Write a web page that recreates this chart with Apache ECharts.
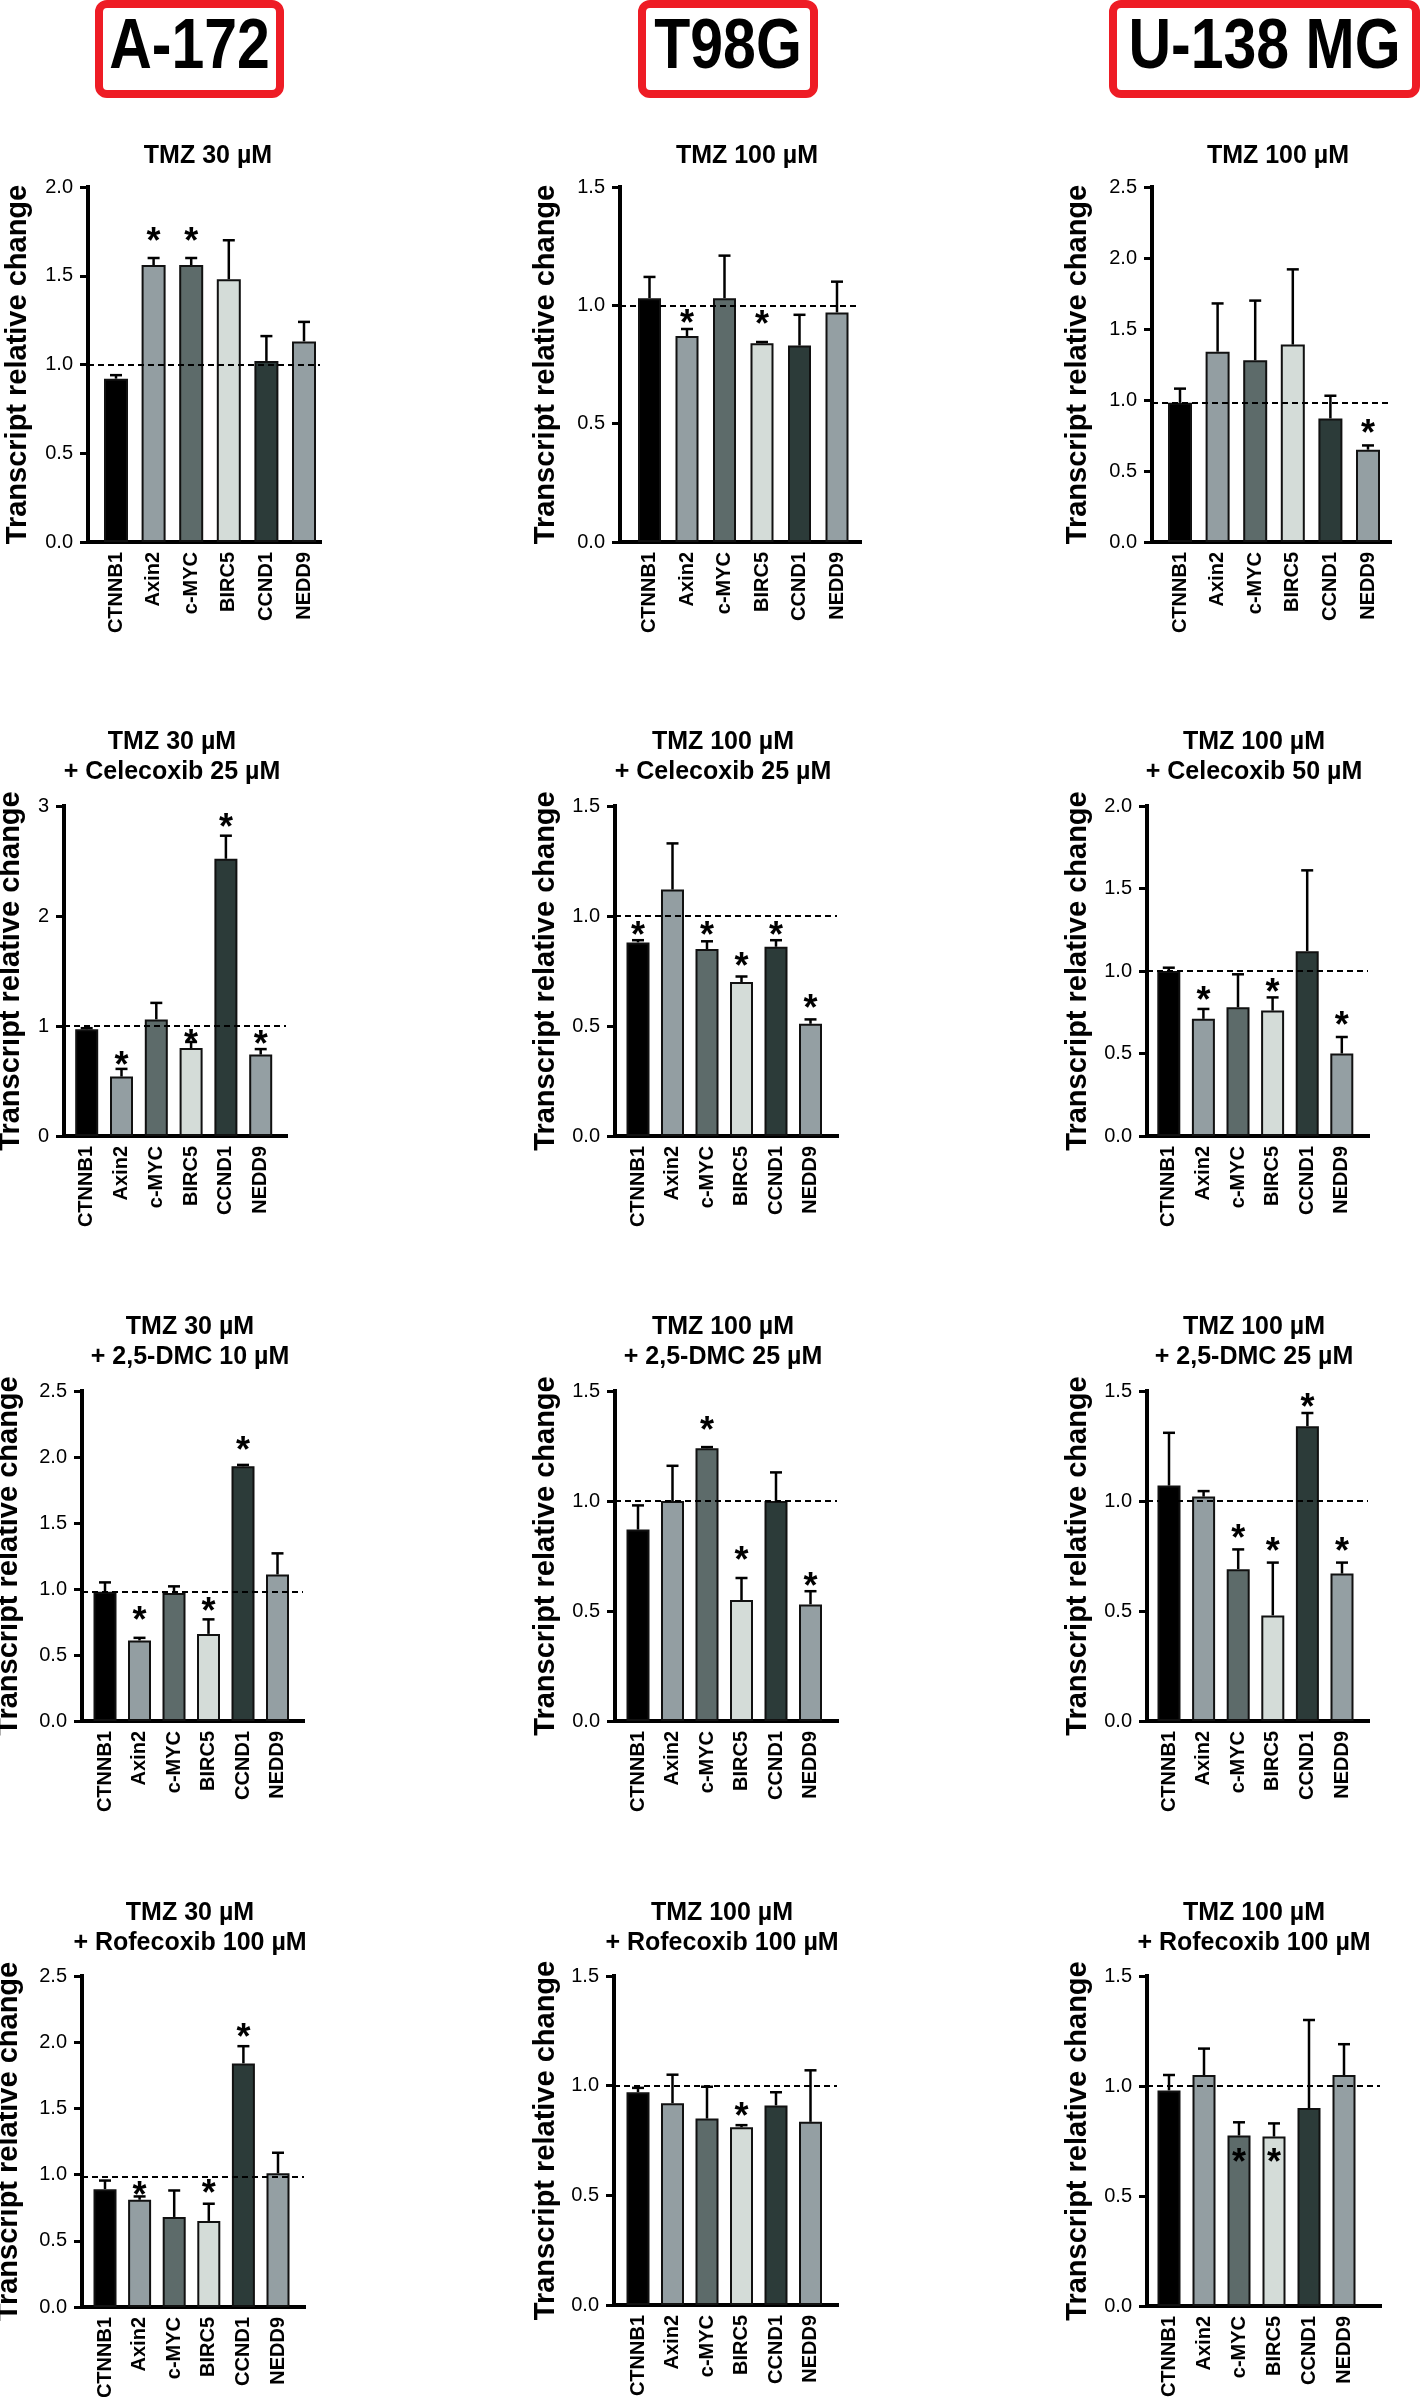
<!DOCTYPE html>
<html><head><meta charset="utf-8">
<script src="https://cdn.jsdelivr.net/npm/echarts@6/dist/echarts.min.js"></script>
<style>html,body{margin:0;padding:0;background:#fff}#c{width:1422px;height:2397px}</style>
</head><body><div id="c"></div>
<script>
// ---------------- DATA ----------------
const categories = ['CTNNB1', 'Axin2', 'c-MYC', 'BIRC5', 'CCND1', 'NEDD9'];
const cellLines = ['A-172', 'T98G', 'U-138 MG'];
const yAxisTitle = 'Transcript relative change';

const panelTitles = [
  'TMZ 30 µM', 'TMZ 100 µM', 'TMZ 100 µM',
  'TMZ 30 µM\n+ Celecoxib 25 µM', 'TMZ 100 µM\n+ Celecoxib 25 µM', 'TMZ 100 µM\n+ Celecoxib 50 µM',
  'TMZ 30 µM\n+ 2,5-DMC 10 µM', 'TMZ 100 µM\n+ 2,5-DMC 25 µM', 'TMZ 100 µM\n+ 2,5-DMC 25 µM',
  'TMZ 30 µM\n+ Rofecoxib 100 µM', 'TMZ 100 µM\n+ Rofecoxib 100 µM', 'TMZ 100 µM\n+ Rofecoxib 100 µM'
];
const yMax  = [2, 1.5, 2.5, 3, 1.5, 2, 2.5, 1.5, 1.5, 2.5, 1.5, 1.5];
const yStep = [0.5, 0.5, 0.5, 1, 0.5, 0.5, 0.5, 0.5, 0.5, 0.5, 0.5, 0.5];
const refLine = [1, 1, 0.98, 1, 1, 1, 0.98, 1, 1, 0.985, 1, 1];

// Row 1: TMZ alone
const a172_tmz_mean = [0.92, 1.56, 1.56, 1.48, 1.02, 1.13];
const a172_tmz_sem  = [0.02, 0.04, 0.04, 0.22, 0.14, 0.11];
const a172_tmz_star = [null, 1.73, 1.73, null, null, null];
const t98g_tmz_mean = [1.03, 0.87, 1.03, 0.84, 0.83, 0.97];
const t98g_tmz_sem  = [0.09, 0.03, 0.18, 0.005, 0.13, 0.13];
const t98g_tmz_star = [null, 0.95, null, 0.945, null, null];
const u138_tmz_mean = [0.98, 1.34, 1.28, 1.39, 0.87, 0.65];
const u138_tmz_sem  = [0.10, 0.34, 0.42, 0.53, 0.16, 0.03];
const u138_tmz_star = [null, null, null, null, null, 0.81];

// Row 2: + Celecoxib
const a172_cel_mean = [0.97, 0.54, 1.06, 0.80, 2.52, 0.74];
const a172_cel_sem  = [0.01, 0.07, 0.15, 0.055, 0.21, 0.05];
const a172_cel_star = [null, 0.70, null, 0.90, 2.86, 0.89];
const t98g_cel_mean = [0.88, 1.12, 0.85, 0.70, 0.86, 0.51];
const t98g_cel_sem  = [0.01, 0.21, 0.035, 0.025, 0.03, 0.02];
const t98g_cel_star = [0.94, null, 0.94, 0.80, 0.94, 0.61];
const u138_cel_mean = [1.00, 0.71, 0.78, 0.76, 1.12, 0.50];
const u138_cel_sem  = [0.02, 0.06, 0.20, 0.08, 0.49, 0.10];
const u138_cel_star = [null, 0.86, null, 0.91, null, 0.71];

// Row 3: + 2,5-DMC
const a172_dmc_mean = [0.98, 0.61, 0.97, 0.66, 1.93, 1.11];
const a172_dmc_sem  = [0.07, 0.02, 0.05, 0.11, 0.01, 0.16];
const a172_dmc_star = [null, 0.81, null, 0.88, 2.10, null];
const t98g_dmc_mean = [0.87, 1.00, 1.24, 0.55, 1.00, 0.53];
const t98g_dmc_sem  = [0.11, 0.16, 0.005, 0.10, 0.13, 0.06];
const t98g_dmc_star = [null, null, 1.35, 0.76, null, 0.64];
const u138_dmc_mean = [1.07, 1.02, 0.69, 0.48, 1.34, 0.67];
const u138_dmc_sem  = [0.24, 0.025, 0.09, 0.24, 0.06, 0.05];
const u138_dmc_star = [null, null, 0.86, 0.80, 1.455, 0.80];

// Row 4: + Rofecoxib
const a172_rof_mean = [0.89, 0.81, 0.68, 0.65, 1.84, 1.01];
const a172_rof_sem  = [0.065, 0.025, 0.20, 0.13, 0.13, 0.155];
const a172_rof_star = [null, 0.89, null, 0.905, 2.085, null];
const t98g_rof_mean = [0.97, 0.92, 0.85, 0.81, 0.91, 0.835];
const t98g_rof_sem  = [0.02, 0.13, 0.145, 0.01, 0.06, 0.235];
const t98g_rof_star = [null, null, null, 0.89, null, null];
const u138_rof_mean = [0.98, 1.05, 0.775, 0.77, 0.90, 1.05];
const u138_rof_sem  = [0.07, 0.12, 0.06, 0.06, 0.40, 0.14];
const u138_rof_star = [null, null, 0.68, 0.68, null, null];

const panelMeans = [a172_tmz_mean, t98g_tmz_mean, u138_tmz_mean, a172_cel_mean, t98g_cel_mean, u138_cel_mean,
                    a172_dmc_mean, t98g_dmc_mean, u138_dmc_mean, a172_rof_mean, t98g_rof_mean, u138_rof_mean];
const panelSems  = [a172_tmz_sem, t98g_tmz_sem, u138_tmz_sem, a172_cel_sem, t98g_cel_sem, u138_cel_sem,
                    a172_dmc_sem, t98g_dmc_sem, u138_dmc_sem, a172_rof_sem, t98g_rof_sem, u138_rof_sem];
const panelStars = [a172_tmz_star, t98g_tmz_star, u138_tmz_star, a172_cel_star, t98g_cel_star, u138_cel_star,
                    a172_dmc_star, t98g_dmc_star, u138_dmc_star, a172_rof_star, t98g_rof_star, u138_rof_star];

// ---------------- LAYOUT / STYLE ----------------
const FONT = "'Liberation Sans', Arial, Helvetica, sans-serif";
const barColors = ['#000000', '#939ea2', '#5d6b6a', '#d4dcd8', '#2c3b39', '#949fa3'];
// ax: y-axis x, end: x-axis right end, top/bottom: y-range, c0: first bar centre, sp: bar spacing, bw: bar width, nd: name distance, tx: title centre x
const layout = [
  {ax: 88,   end: 320,  top: 187,  bottom: 542,  c0: 116,    sp: 37.6, bw: 24, nd: 71, tx: 208},
  {ax: 620,  end: 860,  top: 187,  bottom: 542,  c0: 649.5,  sp: 37.5, bw: 23, nd: 75, tx: 747},
  {ax: 1152, end: 1390, top: 187,  bottom: 542,  c0: 1180,   sp: 37.6, bw: 24, nd: 75, tx: 1278},
  {ax: 64,   end: 286,  top: 806,  bottom: 1136, c0: 86.7,   sp: 34.8, bw: 23, nd: 54, tx: 172},
  {ax: 615,  end: 837,  top: 806,  bottom: 1136, c0: 638,    sp: 34.5, bw: 23, nd: 70, tx: 723},
  {ax: 1147, end: 1368, top: 806,  bottom: 1136, c0: 1168.8, sp: 34.6, bw: 23, nd: 70, tx: 1254},
  {ax: 82,   end: 303,  top: 1391, bottom: 1721, c0: 105,    sp: 34.5, bw: 23, nd: 74, tx: 190},
  {ax: 615,  end: 837,  top: 1391, bottom: 1721, c0: 638,    sp: 34.5, bw: 23, nd: 70, tx: 723},
  {ax: 1147, end: 1368, top: 1391, bottom: 1721, c0: 1169,   sp: 34.6, bw: 23, nd: 70, tx: 1254},
  {ax: 82,   end: 304,  top: 1976, bottom: 2307, c0: 105,    sp: 34.6, bw: 23, nd: 74, tx: 190},
  {ax: 614,  end: 837,  top: 1976, bottom: 2305, c0: 638,    sp: 34.5, bw: 23, nd: 69, tx: 722},
  {ax: 1147, end: 1380, top: 1976, bottom: 2306, c0: 1169,   sp: 35,   bw: 23, nd: 70, tx: 1254}
];
const titleTop = [141, 727, 1312, 1898];
const headerBoxes = [{x0: 95, x1: 284}, {x0: 638, x1: 818}, {x0: 1109, x1: 1420}];

const grids = [], xAxes = [], yAxes = [], series = [], graphics = [];

layout.forEach((L, k) => {
  const means = panelMeans[k], sems = panelSems[k], stars = panelStars[k];
  const step = yStep[k];
  grids.push({left: L.ax, top: L.top, width: L.end - L.ax, height: L.bottom - L.top,
              containLabel: false, outerBoundsMode: 'none'});
  xAxes.push({
    gridIndex: k, type: 'value', min: (L.ax - L.c0) / L.sp, max: (L.end - L.c0) / L.sp,
    axisLine: {show: true, onZero: false, lineStyle: {color: '#000', width: 4, cap: 'square'}},
    axisTick: {show: false}, splitLine: {show: false},
    axisLabel: {customValues: [0, 1, 2, 3, 4, 5], formatter: v => categories[Math.round(v)],
                rotate: 90, margin: 10, color: '#000', fontFamily: FONT, fontWeight: 'bold', fontSize: 20}
  });
  yAxes.push({
    gridIndex: k, type: 'value', min: 0, max: yMax[k], interval: step,
    name: yAxisTitle, nameLocation: 'middle', nameGap: L.nd - 15, nameMoveOverlap: false,
    nameTextStyle: {color: '#000', fontFamily: FONT, fontWeight: 'bold', fontSize: 29},
    axisLine: {show: true, onZero: false, lineStyle: {color: '#000', width: 4, cap: 'square'}},
    axisTick: {show: true, length: 8, lineStyle: {color: '#000', width: 3}},
    axisLabel: {margin: 15, color: '#000', fontFamily: FONT, fontSize: 20,
                formatter: v => step >= 1 ? String(Math.round(v)) : v.toFixed(1)},
    splitLine: {show: false}
  });
  series.push({
    type: 'bar', xAxisIndex: k, yAxisIndex: k, barWidth: L.bw, z: 2,
    data: means.map((v, i) => ({value: [i, v], itemStyle: {color: barColors[i]}})),
    itemStyle: {borderColor: '#111', borderWidth: 2},
    markLine: {silent: true, symbol: 'none', z: 5, label: {show: false},
               lineStyle: {color: '#000', width: 2, type: [6, 4]},
               data: [{yAxis: refLine[k]}]}
  });
  series.push({
    type: 'custom', xAxisIndex: k, yAxisIndex: k, z: 1, clip: false,
    data: means.map((v, i) => [i, v, v + sems[i]]),
    renderItem: (params, api) => {
      const p0 = api.coord([api.value(0), api.value(1)]);
      const p1 = api.coord([api.value(0), api.value(2)]);
      const hw = 6;
      return {type: 'group', children: [
        {type: 'line', shape: {x1: p0[0], y1: p0[1], x2: p1[0], y2: p1[1]}, style: {stroke: '#000', lineWidth: 2.5}},
        {type: 'line', shape: {x1: p1[0] - hw, y1: p1[1], x2: p1[0] + hw, y2: p1[1]}, style: {stroke: '#000', lineWidth: 2.5}}
      ]};
    }
  });
  const starData = [];
  stars.forEach((s, i) => { if (s != null) starData.push([i, s]); });
  series.push({
    type: 'custom', xAxisIndex: k, yAxisIndex: k, z: 6, clip: false,
    data: starData,
    renderItem: (params, api) => {
      const c = api.coord([api.value(0), api.value(1)]);
      return {type: 'text', x: c[0], y: c[1] + 8,
              style: {text: '*', fill: '#000', fontSize: 36, fontWeight: 'bold', fontFamily: FONT,
                      align: 'center', verticalAlign: 'middle'}};
    }
  });
  graphics.push({
    type: 'text', x: L.tx, y: titleTop[Math.floor(k / 3)],
    style: {text: panelTitles[k], fill: '#000', fontSize: 25, fontWeight: 'bold', fontFamily: FONT,
            lineHeight: 30, align: 'center', verticalAlign: 'top'}
  });
});

headerBoxes.forEach((b, j) => {
  graphics.push({type: 'rect', shape: {x: b.x0 + 4, y: 4, width: b.x1 - b.x0 - 8, height: 90, r: 8},
                 style: {fill: '#fff', stroke: '#ee1c25', lineWidth: 8}});
  graphics.push({type: 'text', x: (b.x0 + b.x1) / 2, y: 49, scaleY: 1.18,
                 style: {text: cellLines[j], fill: '#000', fontSize: 59, fontWeight: 'bold', fontFamily: FONT,
                         align: 'center', verticalAlign: 'middle'}});
});

const chart = echarts.init(document.getElementById('c'), null, {renderer: 'canvas', width: 1422, height: 2397});
chart.setOption({
  backgroundColor: '#fff',
  animation: false,
  grid: grids, xAxis: xAxes, yAxis: yAxes, series: series,
  graphic: graphics
});
</script></body></html>
